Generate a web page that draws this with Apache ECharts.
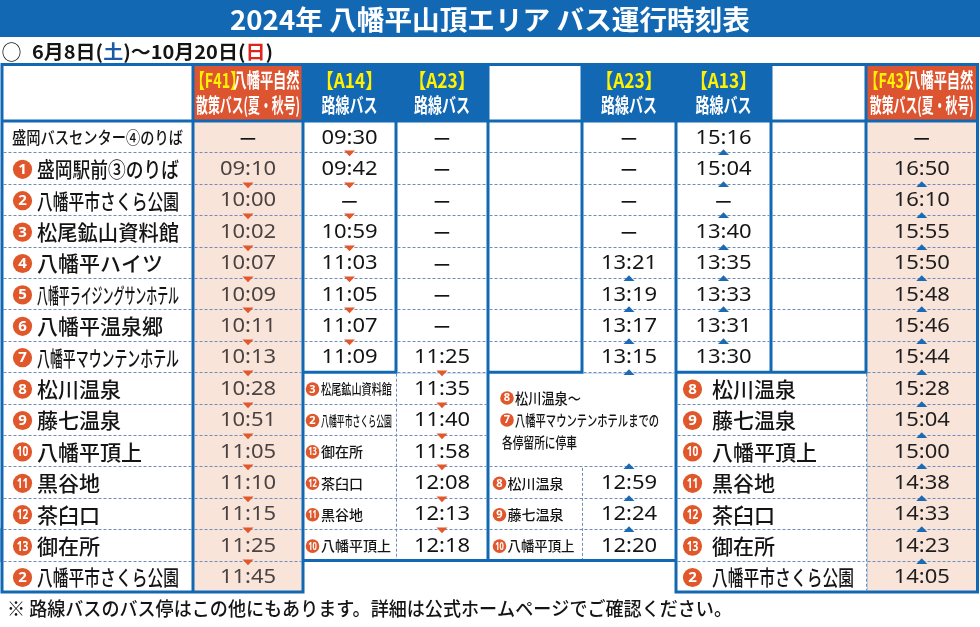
<!DOCTYPE html>
<html lang="ja"><head><meta charset="utf-8">
<title>八幡平山頂エリア バス運行時刻表</title>
<script src="https://cdn.jsdelivr.net/npm/echarts@6/dist/echarts.min.js"></script>
<style>html,body{margin:0;padding:0;background:#fff;overflow:hidden}#chart{width:980px;height:627px}</style>
</head><body><div id="chart"></div>
<script>
// ================= DATA =================
const titleText = '2024年 八幡平山頂エリア バス運行時刻表';
const periodParts = ['6月8日(', '土', ')〜10月20日(', '日', ')'];
const footnoteText = '※ 路線バスのバス停はこの他にもあります。詳細は公式ホームページでご確認ください。';

const headerCodes = ['', '【F41】', '【A14】', '【A23】', '', '【A23】', '【A13】', '', '【F43】'];
const headerLine1Rest = ['', '八幡平自然', '', '', '', '', '', '', '八幡平自然'];
const headerLine2 = ['', '散策バス(夏・秋号)', '路線バス', '路線バス', '', '路線バス', '路線バス', '', '散策バス(夏・秋号)'];

const stationNames = ['盛岡バスセンター④のりば', '盛岡駅前③のりば', '八幡平市さくら公園', '松尾鉱山資料館', '八幡平ハイツ', '八幡平ライジングサンホテル', '八幡平温泉郷', '八幡平マウンテンホテル', '松川温泉', '藤七温泉', '八幡平頂上', '黒谷地', '茶臼口', '御在所', '八幡平市さくら公園'];
const stationNums = [0, 1, 2, 3, 4, 5, 6, 7, 8, 9, 10, 11, 12, 13, 2];

const f41Times = ['—', '09:10', '10:00', '10:02', '10:07', '10:09', '10:11', '10:13', '10:28', '10:51', '11:05', '11:10', '11:15', '11:25', '11:45'];
const a14Times = ['09:30', '09:42', '—', '10:59', '11:03', '11:05', '11:07', '11:09'];
const a23aTimes = ['—', '—', '—', '—', '—', '—', '—', '11:25'];
const a23aStopNums = [3, 2, 13, 12, 11, 10];
const a23aStopNames = ['松尾鉱山資料館', '八幡平市さくら公園', '御在所', '茶臼口', '黒谷地', '八幡平頂上'];
const a23aStopTimes = ['11:35', '11:40', '11:58', '12:08', '12:13', '12:18'];
const a23bTimes = ['—', '—', '—', '—', '13:21', '13:19', '13:17', '13:15'];
const a23bNoteNums = [8, 7, 0];
const a23bNoteLines = ['松川温泉～', '八幡平マウンテンホテルまでの', '各停留所に停車'];
const a23bStopNums = [8, 9, 10];
const a23bStopNames = ['松川温泉', '藤七温泉', '八幡平頂上'];
const a23bStopTimes = ['12:59', '12:24', '12:20'];
const a13Times = ['15:16', '15:04', '—', '13:40', '13:35', '13:33', '13:31', '13:30'];
const f43Times = ['—', '16:50', '16:10', '15:55', '15:50', '15:48', '15:46', '15:44', '15:28', '15:04', '15:00', '14:38', '14:33', '14:23', '14:05'];
const f43StopNums = [8, 9, 10, 11, 12, 13, 2];
const f43StopNames = ['松川温泉', '藤七温泉', '八幡平頂上', '黒谷地', '茶臼口', '御在所', '八幡平市さくら公園'];

// row boundaries where the running-direction marks sit
const f41Arrows = [2, 3, 4, 5, 6, 7, 8, 9, 10, 11, 12, 13, 14];
const a14Arrows = [1, 2, 3, 4, 5, 6, 7];
const a23aArrows = [8, 9, 10, 11, 12, 13];
const a23bArrows = [5, 6, 7, 8, 11, 12, 13];
const a13Arrows = [1, 2, 3, 4, 5, 6, 7];
const f43Arrows = [2, 3, 4, 5, 6, 7, 8, 9, 10, 11, 12, 13, 14];

// ================= LAYOUT / STYLE =================
const colEdges = [2, 193, 303, 396, 488, 582, 676, 771, 866, 977.5];
const HDR = -1.8;
const BLUE = '#1268b3', ORANGE = '#dd5431', PINK = '#f9e4da', YELLOW = '#fff200', WHITE = '#ffffff';
const DASH = '#6f8cbf', ARROW_O = '#e2572b', ARROW_B = '#1a6ab4', CIRCLE = '#e0572b';
const INK = '#141414', F41C = '#4b4341', RED = '#e0241b', DAYBLUE = '#1c5aa6';
const JP = '"Noto Sans CJK JP", "Noto Sans", sans-serif';
const NUMF = '"Noto Sans", "DejaVu Sans", sans-serif';
const HB = 1.5;
const colCenter = c => (colEdges[c] + colEdges[c + 1]) / 2;
const range = (a, b) => { const r = []; for (let i = a; i <= b; i++) r.push(i); return r; };

const mctx = document.createElement('canvas').getContext('2d');
function textW(t, size, fam, weight) { mctx.font = (weight || 'normal') + ' ' + size + 'px ' + fam; return mctx.measureText(t).width; }
function txt(t, x, y, o) {
  const fam = o.fam || JP, weight = o.weight || 'normal';
  let s = o.scale || 1;
  if (o.targetW || o.maxW) {
    const w = textW(t, o.size, fam, weight);
    if (o.targetW) s = o.targetW / w; else if (w * s > o.maxW) s = o.maxW / w;
  }
  const align = o.align || 'left';
  return { type: 'text', x: x, y: y, scaleX: s, scaleY: 1,
    style: { text: t, fill: o.fill || INK, fontSize: o.size, fontFamily: fam, fontWeight: weight,
      align: align, verticalAlign: 'middle', textAlign: align, textVerticalAlign: 'middle' } };
}
// parts laid out in a row; a part may carry its own drawn width (w), advance (adv) and left offset (off)
function partsLine(parts, x, y, o, center) {
  const fam = o.fam || JP, weight = o.weight || 'normal';
  const nat = parts.map(p => textW(p.t, o.size, fam, weight));
  const total = nat.reduce((a, b) => a + b, 0);
  const gs = o.targetW ? o.targetW / total : 1;
  const outW = parts.map((p, i) => p.w || nat[i] * gs);
  const advW = parts.map((p, i) => p.adv || outW[i]);
  const sumW = advW.reduce((a, b) => a + b, 0);
  let start = center ? x - sumW / 2 : x;
  return parts.map((p, i) => {
    const el = txt(p.t, start + (p.off || 0), y, { size: o.size, fam: fam, weight: weight, fill: p.fill, scale: outW[i] / nat[i] });
    start += advW[i]; return el;
  });
}

// boxes: m = T,R,B,L  i = inset (border shows)  o = outset
const boxes = [
  { c0: 0, c1: 9, r0: HDR, r1: 14, m: 'oooo', fill: BLUE },
  { c0: 0, c1: 2, r0: 13, r1: 15, m: 'oooo', fill: BLUE },
  { c0: 6, c1: 9, r0: 13, r1: 15, m: 'oooo', fill: BLUE },
  { c0: 0, c1: 1, r0: HDR, r1: 0, m: 'iiii', fill: WHITE },
  { c0: 1, c1: 2, r0: HDR, r1: 0, m: 'iiii', fill: ORANGE },
  { c0: 4, c1: 5, r0: HDR, r1: 0, m: 'iiii', fill: WHITE },
  { c0: 7, c1: 8, r0: HDR, r1: 0, m: 'iiii', fill: WHITE },
  { c0: 8, c1: 9, r0: HDR, r1: 0, m: 'iiii', fill: ORANGE },
  { c0: 0, c1: 1, r0: 0, r1: 15, m: 'iiii', fill: WHITE },
  { c0: 1, c1: 2, r0: 0, r1: 15, m: 'iiii', fill: PINK },
  { c0: 2, c1: 3, r0: 0, r1: 8, m: 'iiii', fill: WHITE },
  { c0: 2, c1: 4, r0: 8, r1: 14, m: 'iiii', fill: WHITE },
  { c0: 3, c1: 4, r0: 0, r1: 8, m: 'iioi', fill: WHITE },
  { c0: 4, c1: 5, r0: 0, r1: 8, m: 'iiii', fill: WHITE },
  { c0: 4, c1: 6, r0: 8, r1: 14, m: 'iiii', fill: WHITE },
  { c0: 5, c1: 6, r0: 0, r1: 8, m: 'iioi', fill: WHITE },
  { c0: 6, c1: 7, r0: 0, r1: 8, m: 'iiii', fill: WHITE },
  { c0: 7, c1: 8, r0: 0, r1: 8, m: 'iiii', fill: WHITE },
  { c0: 6, c1: 8, r0: 8, r1: 15, m: 'ioii', fill: WHITE },
  { c0: 8, c1: 9, r0: 0, r1: 15, m: 'iiii', fill: PINK }
];

const hDash = [];
const addH = (c0, c1, rows) => rows.forEach(r => hDash.push([c0, c1, r]));
addH(0, 1, range(1, 14)); addH(1, 2, range(1, 14)); addH(8, 9, range(1, 14));
addH(2, 3, range(1, 7)); addH(3, 4, range(1, 8)); addH(4, 5, range(1, 7)); addH(5, 6, range(1, 8));
addH(6, 7, range(1, 7)); addH(7, 8, range(1, 7));
addH(2, 4, range(9, 13)); addH(4, 6, [11, 12, 13]); addH(6, 8, range(9, 14));
const vDash = [[3, 8, 14], [5, 11, 14], [8, 8, 15]];

// ---------- build series items from data ----------
const timeItems = [];
const addTimes = (col, rows0, arr, color) => arr.forEach((t, i) => timeItems.push({ col: col, row: rows0 + i, t: t, color: color }));
addTimes(1, 0, f41Times, F41C);
addTimes(2, 0, a14Times, INK);
addTimes(3, 0, a23aTimes, INK);
addTimes(3, 8, a23aStopTimes, INK);
addTimes(5, 0, a23bTimes, INK);
addTimes(5, 11, a23bStopTimes, INK);
addTimes(6, 0, a13Times, INK);
addTimes(8, 0, f43Times, '#1e1e1e');

const arrowItems = [];
const addArrows = (col, arr, dir) => arr.forEach(b => arrowItems.push({ col: col, b: b, dir: dir }));
addArrows(1, f41Arrows, 'down'); addArrows(2, a14Arrows, 'down'); addArrows(3, a23aArrows, 'down');
addArrows(5, a23bArrows, 'up'); addArrows(6, a13Arrows, 'up'); addArrows(8, f43Arrows, 'up');

const nameLayout = {
  L: { edge: 0, cdx: 20.5, r: 9.6, ns: 15, tdx: 35, size: 21, maxW: 142 },
  R: { edge: 6, cdx: 16.5, r: 9.6, ns: 15, tdx: 36, size: 21, maxW: 142 },
  M1: { edge: 2, cdx: 9.5, r: 6.8, ns: 11, tdx: 18, size: 14, maxW: 71 },
  M2: { edge: 4, cdx: 11.5, r: 6.8, ns: 11, tdx: 19.5, size: 14, maxW: 67 },
  N: { edge: 4, cdx: 19, r: 6.8, ns: 11, tdx: 27, size: 15, maxW: 999 }
};
const noteY = [8.82, 9.52, 10.22];
const noteW = [66, 144, 75];
const nameItems = [];
stationNames.forEach((n, i) => nameItems.push({ kind: 'L', yc: i + 0.5, num: stationNums[i], name: n }));
f43StopNames.forEach((n, i) => nameItems.push({ kind: 'R', yc: 8 + i + 0.5, num: f43StopNums[i], name: n }));
a23aStopNames.forEach((n, i) => nameItems.push({ kind: 'M1', yc: 8 + i + 0.5, num: a23aStopNums[i], name: n }));
a23bStopNames.forEach((n, i) => nameItems.push({ kind: 'M2', yc: 11 + i + 0.5, num: a23bStopNums[i], name: n }));
a23bNoteLines.forEach((n, i) => nameItems.push({ kind: 'N', yc: noteY[i], num: a23bNoteNums[i], name: n, tw: noteW[i] }));

const headerItems = [];
for (let c = 1; c < 9; c++) {
  if (!headerCodes[c]) continue;
  const wide = !!headerLine1Rest[c];
  const p1 = wide
    ? [{ t: headerCodes[c], fill: YELLOW, w: 54, adv: 37, off: -6 }, { t: headerLine1Rest[c], fill: WHITE, w: 66 }]
    : [{ t: headerCodes[c], fill: YELLOW }];
  headerItems.push({ col: c, yv: -1.29, parts: p1, tw: wide ? 104 : 66 });
  headerItems.push({ col: c, yv: -0.49, parts: [{ t: headerLine2[c], fill: WHITE }], tw: wide ? 104 : 56 });
}

// ================= CHART =================
const chart = echarts.init(document.getElementById('chart'), null, { renderer: 'canvas', width: 980, height: 627 });
const base = { type: 'custom', coordinateSystem: 'cartesian2d', silent: true, clip: false, animation: false };

const option = {
  animation: false,
  backgroundColor: '#ffffff',
  grid: { left: 0, right: 0, top: 61.34, bottom: 35, containLabel: false },
  xAxis: { type: 'value', min: 0, max: 980, show: false },
  yAxis: { type: 'value', min: -1.9, max: 15, inverse: true, show: false },
  graphic: [
    { type: 'rect', left: 0, top: 0, shape: { x: 0, y: 0, width: 980, height: 37 }, style: { fill: BLUE }, silent: true },
    Object.assign(txt(titleText, 490, 20, { size: 27, weight: 'bold', fill: WHITE, align: 'center', targetW: 520 }), { silent: true }),
    Object.assign(txt('○', 11.5, 52, { size: 20, fill: INK, align: 'center' }), { silent: true })
  ].concat(partsLine([
      { t: periodParts[0], fill: INK }, { t: periodParts[1], fill: DAYBLUE }, { t: periodParts[2], fill: INK },
      { t: periodParts[3], fill: RED }, { t: periodParts[4], fill: INK }], 32, 52, { size: 19, weight: 'bold', targetW: 241 }, false))
   .concat([txt(footnoteText, 7, 609, { size: 19, weight: '500', fill: INK, targetW: 725 })]),
  series: [
    Object.assign({}, base, { z: 1,
      data: boxes.map(b => [colEdges[b.c0], b.r0]),
      renderItem: function (params, api) {
        const b = boxes[params.dataIndex];
        const p0 = api.coord([colEdges[b.c0], b.r0]);
        const p1 = api.coord([colEdges[b.c1], b.r1]);
        const d = ch => (ch === 'i' ? HB : -HB);
        const x0 = p0[0] + d(b.m[3]), x1 = p1[0] - d(b.m[1]);
        const y0 = p0[1] + d(b.m[0]), y1 = p1[1] - d(b.m[2]);
        return { type: 'rect', shape: { x: x0, y: y0, width: x1 - x0, height: y1 - y0 }, style: { fill: b.fill } };
      } }),
    Object.assign({}, base, { z: 2,
      data: hDash.map(s => [colEdges[s[0]], s[2]]).concat(vDash.map(s => [colEdges[s[0]], s[1]])),
      renderItem: function (params, api) {
        const i = params.dataIndex;
        const st = { stroke: DASH, lineWidth: 1, lineDash: [3, 2] };
        if (i < hDash.length) {
          const s = hDash[i];
          const a = api.coord([colEdges[s[0]], s[2]]), b = api.coord([colEdges[s[1]], s[2]]);
          const y = Math.round(a[1]) + 0.5;
          return { type: 'line', shape: { x1: a[0] + HB, y1: y, x2: b[0] - HB, y2: y }, style: st };
        }
        const s = vDash[i - hDash.length];
        const a = api.coord([colEdges[s[0]], s[1]]), b = api.coord([colEdges[s[0]], s[2]]);
        const x = Math.round(a[0]) + 0.5;
        return { type: 'line', shape: { x1: x, y1: a[1] + HB, x2: x, y2: b[1] - HB }, style: st };
      } }),
    Object.assign({}, base, { z: 3,
      data: arrowItems.map(a => [colCenter(a.col), a.b]),
      renderItem: function (params, api) {
        const a = arrowItems[params.dataIndex];
        const p = api.coord([api.value(0), api.value(1)]);
        const x = p[0], y = Math.round(p[1]) + 0.5;
        const pts = a.dir === 'down'
          ? [[x - 5.5, y - 2], [x + 5.5, y - 2], [x, y + 3.8]]
          : [[x - 5.5, y + 2.5], [x + 5.5, y + 2.5], [x, y - 3.3]];
        return { type: 'polygon', shape: { points: pts }, style: { fill: a.dir === 'down' ? ARROW_O : ARROW_B } };
      } }),
    Object.assign({}, base, { z: 4,
      data: timeItems.map(t => [colCenter(t.col), t.row + 0.5]),
      renderItem: function (params, api) {
        const t = timeItems[params.dataIndex];
        const p = api.coord([api.value(0), api.value(1)]);
        if (t.t === '—') return txt('—', p[0], p[1] + 0.5, { size: 18, weight: 'bold', fam: JP, fill: INK, align: 'center' });
        return txt(t.t, p[0], p[1] + 1.2, { size: 20, fam: NUMF, fill: t.color, align: 'center', scale: 1.1 });
      } }),
    Object.assign({}, base, { z: 4,
      data: nameItems.map(n => [colEdges[nameLayout[n.kind].edge], n.yc]),
      renderItem: function (params, api) {
        const it = nameItems[params.dataIndex];
        const L = nameLayout[it.kind];
        const p = api.coord([api.value(0), api.value(1)]);
        const ex = p[0], y = p[1] + (it.kind === 'N' ? 0 : 1.2);
        const ch = [];
        if (it.num) {
          const cx = ex + L.cdx;
          ch.push({ type: 'circle', shape: { cx: cx, cy: y, r: L.r }, style: { fill: CIRCLE } });
          const ns = String(it.num);
          ch.push(txt(ns, cx, y + 0.3, { size: L.ns, fam: NUMF, weight: 'bold', fill: WHITE, align: 'center', scale: ns.length > 1 ? 0.68 : 1 }));
          const o = { size: L.size, weight: '500', fill: INK };
          if (it.tw) o.targetW = it.tw; else o.maxW = L.maxW;
          ch.push(txt(it.name, ex + L.tdx, y, o));
        } else if (it.kind === 'L') {
          ch.push(txt(it.name, ex + 10, y, { size: 17, weight: '500', fill: INK, targetW: 171 }));
        } else {
          ch.push(txt(it.name, ex + 14, y, { size: L.size, weight: '500', fill: INK, targetW: it.tw }));
        }
        return { type: 'group', children: ch };
      } }),
    Object.assign({}, base, { z: 4,
      data: headerItems.map(h => [colCenter(h.col), h.yv]),
      renderItem: function (params, api) {
        const h = headerItems[params.dataIndex];
        const p = api.coord([api.value(0), api.value(1)]);
        return { type: 'group', children: partsLine(h.parts, p[0], p[1], { size: 20, weight: 'bold', targetW: h.tw }, true) };
      } })
  ]
};
chart.setOption(option);
</script>
</body></html>
